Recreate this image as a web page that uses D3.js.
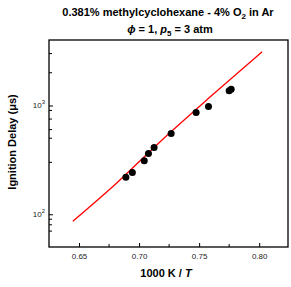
<!DOCTYPE html>
<html>
<head>
<meta charset="utf-8">
<script src="https://cdn.jsdelivr.net/npm/d3@7"></script>
<style>
body{margin:0;background:#fff;}
text{font-family:"Liberation Sans",Arial,sans-serif;}
</style>
</head>
<body>
<div id="chart"></div>
<script>
// measured points (1000 K / T , ignition delay in us)
const invT = [0.6890, 0.6944, 0.7043, 0.7078, 0.7125, 0.7267, 0.7475, 0.7578, 0.7750, 0.7767];
const delay = [219, 242, 311, 362, 411, 553, 862, 979, 1368, 1413];

// model curve
const modelT = [0.6448, 0.6814, 0.7189, 0.7600, 0.8024];
const modelDelay = [86.2, 194, 480, 1220, 3112];

const xTicks = [0.65, 0.70, 0.75, 0.80];
const xMinor = [0.675, 0.725, 0.775];
const yTicks = [100, 1000];
const yMinor = [70, 80, 90, 300, 500, 600, 750, 900, 2000, 3000];

let width = 291, height = 287;
const mLeft = 49, mRight = 288, mTop = 40, mBottom = 247;

const svg = d3.select('#chart')
    .append('svg')
    .attr('width', width)
    .attr('height', height);

const x = d3.scaleLinear().domain([0.625, 0.824]).range([mLeft, mRight]);
const y = d3.scaleLog().domain([50, 4000]).range([mBottom, mTop]);

// frame
svg.append('rect')
    .attr('x', mLeft).attr('y', mTop)
    .attr('width', mRight - mLeft).attr('height', mBottom - mTop)
    .attr('fill', 'none').attr('stroke', '#000').attr('stroke-width', 1.3);

// x axis, ticks pointing in
const xAxis = d3.axisBottom(x).tickValues(xTicks).tickSize(-4).tickFormat(d3.format('.2f'));
const gx = svg.append('g').attr('transform', `translate(0,${mBottom})`).call(xAxis);
gx.select('.domain').remove();
gx.selectAll('text').attr('font-size', 8).attr('dy', 0).attr('y', 12).attr('fill', '#222');
gx.selectAll('.tick line').attr('stroke-width', 1);

svg.append('g').selectAll('line')
    .data(xMinor).enter().append('line')
    .attr('x1', d => x(d)).attr('x2', d => x(d))
    .attr('y1', mBottom).attr('y2', mBottom - 3)
    .attr('stroke', '#000');

// y axis
const gy = svg.append('g').attr('transform', `translate(${mLeft},0)`)
    .call(d3.axisLeft(y).tickValues(yTicks).tickSize(-4).tickFormat(''));
gy.select('.domain').remove();

svg.append('g').selectAll('line')
    .data(yMinor).enter().append('line')
    .attr('x1', mLeft).attr('x2', mLeft + 3)
    .attr('y1', d => y(d)).attr('y2', d => y(d))
    .attr('stroke', '#000');

const yLab = svg.append('g').selectAll('text')
    .data(yTicks).enter().append('text')
    .attr('x', 45).attr('y', d => y(d) + 3)
    .attr('text-anchor', 'end')
    .attr('font-size', 8).attr('fill', '#222');
yLab.append('tspan').text('10');
yLab.append('tspan').attr('font-size', 6).attr('dy', -4).text(d => Math.round(Math.log10(d)));

// model line
const line = d3.line().curve(d3.curveMonotoneX).x(d => x(d[0])).y(d => y(d[1]));
svg.append('path')
    .datum(modelT.map((t, i) => [t, modelDelay[i]]))
    .attr('d', line)
    .attr('fill', 'none').attr('stroke', '#ff0000').attr('stroke-width', 1.3);

// data points
svg.append('g').selectAll('circle')
    .data(invT).enter().append('circle')
    .attr('cx', d => x(d))
    .attr('cy', (d, i) => y(delay[i]))
    .attr('r', 3.5)
    .attr('fill', '#000');

// titles
const t1 = svg.append('text').attr('x', 168).attr('y', 16)
    .attr('text-anchor', 'middle').attr('font-size', 11).attr('font-weight', 'bold');
t1.append('tspan').text('0.381% methylcyclohexane - 4% O');
t1.append('tspan').attr('font-size', 8).attr('dy', 3).text('2');
t1.append('tspan').attr('dy', -3).text(' in Ar');

const t2 = svg.append('text').attr('x', 170).attr('y', 33)
    .attr('text-anchor', 'middle').attr('font-size', 11).attr('font-weight', 'bold');
t2.append('tspan').attr('font-style', 'italic').text('\u03d5');
t2.append('tspan').text(' = 1, ');
t2.append('tspan').attr('font-style', 'italic').text('p');
t2.append('tspan').attr('font-size', 8).attr('dy', 3).text('5');
t2.append('tspan').attr('dy', -3).text(' = 3 atm');

// axis titles
const xt = svg.append('text').attr('x', 166).attr('y', 277)
    .attr('text-anchor', 'middle').attr('font-size', 11).attr('font-weight', 'bold');
xt.append('tspan').text('1000 K / ');
xt.append('tspan').attr('font-style', 'italic').text('T');

svg.append('text')
    .attr('transform', 'translate(16,142) rotate(-90)')
    .attr('text-anchor', 'middle').attr('font-size', 11).attr('font-weight', 'bold')
    .text('Ignition Delay (\u03bcs)');
</script>
</body>
</html>
